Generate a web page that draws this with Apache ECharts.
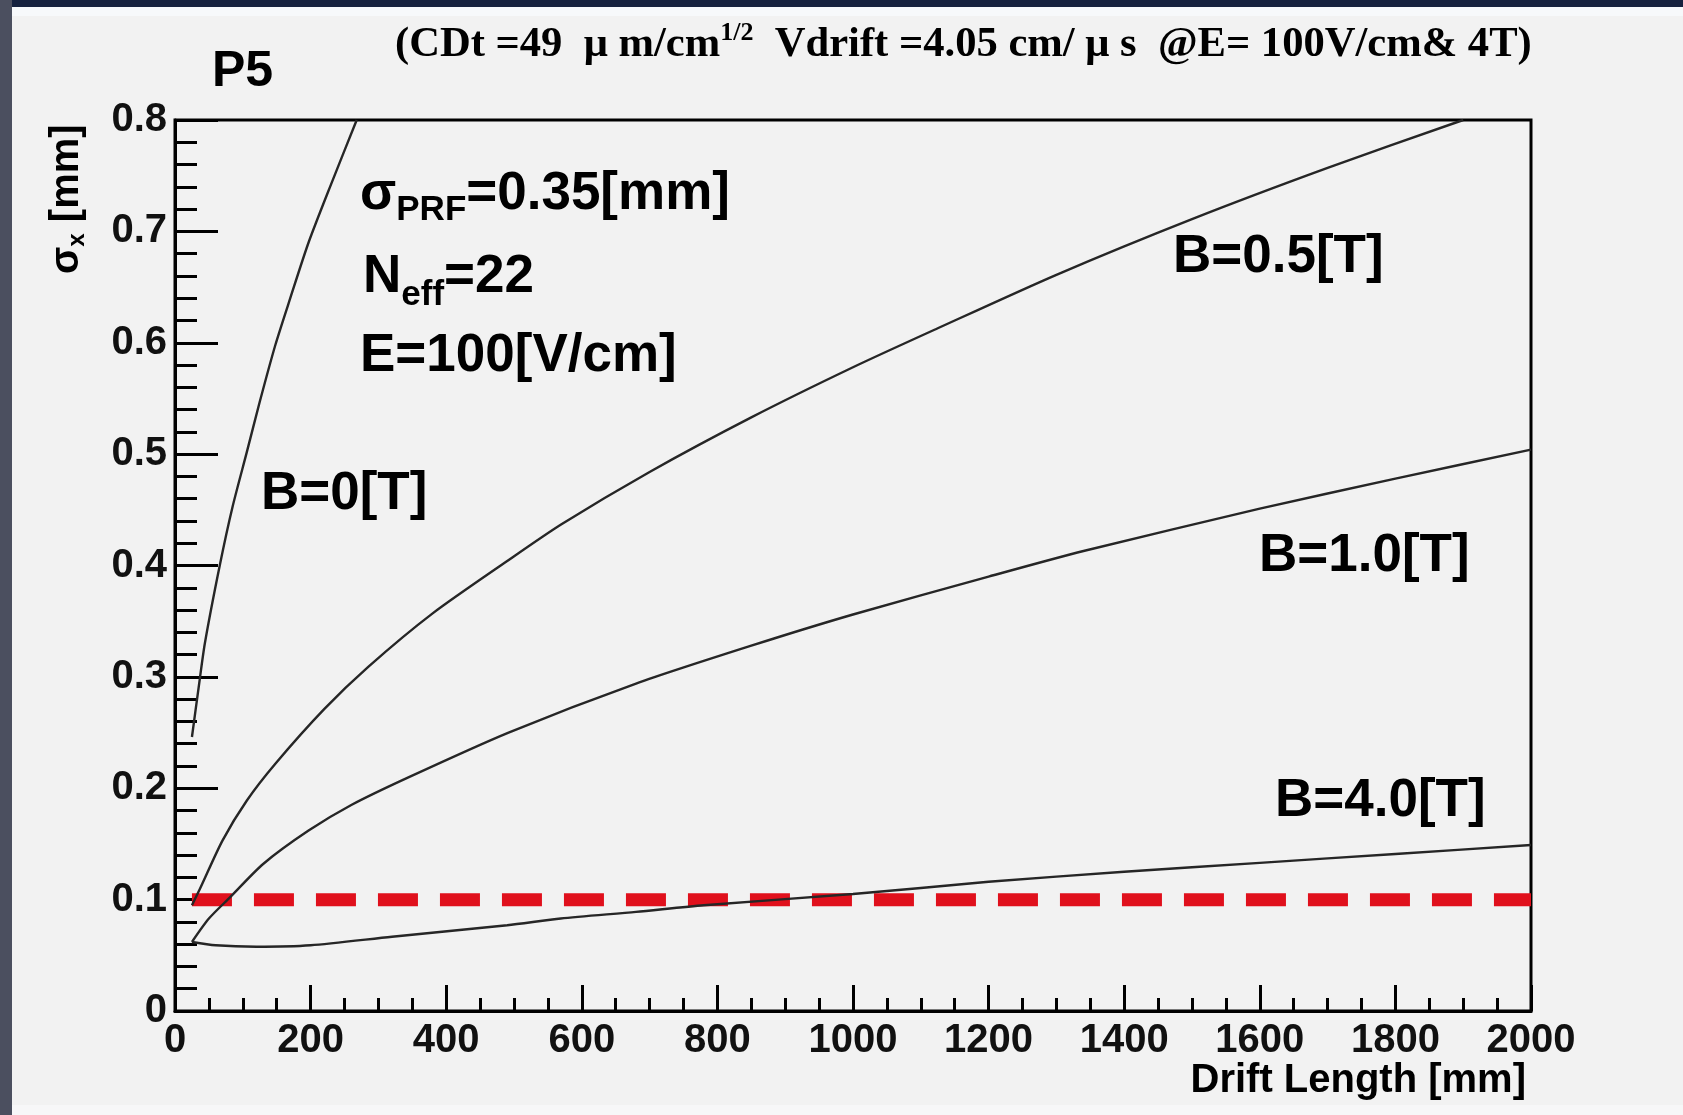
<!DOCTYPE html>
<html>
<head>
<meta charset="utf-8">
<script src="https://cdn.jsdelivr.net/npm/echarts@6/dist/echarts.min.js"></script>
<style>
html,body{margin:0;padding:0;background:#f2f2f2;}
#c{width:1683px;height:1115px;}
</style>
</head>
<body>
<div id="c"></div>
<script>
// ---- data ----
const driftB0  = [25, 35, 44, 66, 85, 106, 125, 148, 170, 197, 230, 268];
const sigmaB0  = [0.246, 0.291, 0.330, 0.400, 0.453, 0.502, 0.547, 0.598, 0.640, 0.690, 0.742, 0.800];

const driftB05 = [25, 37, 70, 106, 148, 220, 285, 380, 490, 570, 700, 850, 1000, 1125, 1300, 1500, 1700, 1900];
const sigmaB05 = [0.095, 0.110, 0.153, 0.189, 0.222, 0.271, 0.309, 0.357, 0.404, 0.437, 0.484, 0.533, 0.578, 0.613, 0.661, 0.711, 0.757, 0.800];

const driftB1  = [25, 50, 81, 130, 197, 260, 345, 492, 680, 850, 1000, 1200, 1340, 1600, 1800, 2000];
const sigmaB1  = [0.062, 0.083, 0.102, 0.132, 0.162, 0.185, 0.210, 0.250, 0.294, 0.328, 0.356, 0.390, 0.413, 0.451, 0.478, 0.504];

const driftB4  = [25, 60, 120, 200, 320, 490, 569, 680, 780, 1000, 1200, 1400, 1600, 1800, 2000];
const sigmaB4  = [0.062, 0.059, 0.0577, 0.059, 0.0667, 0.077, 0.083, 0.089, 0.095, 0.105, 0.116, 0.125, 0.133, 0.141, 0.149];

const refDrift = [25, 2000];
const refSigma = [0.1, 0.1];

const xTickValues = [0, 200, 400, 600, 800, 1000, 1200, 1400, 1600, 1800, 2000];
const yTickValues = [0, 0.1, 0.2, 0.3, 0.4, 0.5, 0.6, 0.7, 0.8];

const curveLabels = ['B=0[T]', 'B=0.5[T]', 'B=1.0[T]', 'B=4.0[T]'];
const titleMain1 = '(CDt =49  \u03bc m/cm';
const titleSup = '1/2';
const titleMain2 = '  Vdrift =4.05 cm/ \u03bc s  @E= 100V/cm& 4T)';
const padLabel = 'P5';
const xTitle = 'Drift Length [mm]';

// ---- helpers ----
const zip = (xs, ys) => xs.map((x, i) => [x, ys[i]]);
const cv = document.createElement('canvas').getContext('2d');
function tw(t, font) { cv.font = font; return cv.measureText(t).width; }
const SANS = '"Liberation Sans", Arial, sans-serif';
const SERIF = '"Liberation Serif", "Times New Roman", serif';
function pieces(parts, x0, y0, family, weight) {
  let x = x0; const out = [];
  for (const p of parts) {
    const font = weight + ' ' + p.f + 'px ' + family;
    out.push({
      type: 'text', x: x, y: y0 + (p.dy || 0), z: 100,
      style: { text: p.t, font: font, fill: '#000',
               textAlign: 'left', textVerticalAlign: 'middle', align: 'left', verticalAlign: 'middle' }
    });
    x += tw(p.t, font);
  }
  return out;
}

const AF = 53; // annotation font size
const TF = 42.6; // title font size
const graphics = [
  { type: 'rect', z: -10, shape: { x: 0, y: 0, width: 1683, height: 7 }, style: { fill: '#16223f' } },
  { type: 'rect', z: -10, shape: { x: 0, y: 7, width: 1683, height: 9 }, style: { fill: '#f7f9fb' } },
  { type: 'rect', z: -10, shape: { x: 0, y: 0, width: 12, height: 1115 }, style: { fill: '#4b4f5f' } },
  { type: 'rect', z: -10, shape: { x: 12, y: 1105, width: 1671, height: 10 }, style: { fill: '#f7f7f8' } },
  ...pieces([{ t: titleMain1, f: TF }, { t: titleSup, f: 26, dy: -12 }, { t: titleMain2, f: TF }], 395, 45, SERIF, 'bold'),
  ...pieces([{ t: padLabel, f: 50 }], 212, 72, SANS, 'bold'),
  ...pieces([{ t: '\u03c3', f: AF }, { t: 'PRF', f: 35, dy: 16 }, { t: '=0.35[mm]', f: AF }], 360, 194, SANS, 'bold'),
  ...pieces([{ t: 'N', f: AF }, { t: 'eff', f: 35, dy: 18 }, { t: '=22', f: AF }], 363, 277, SANS, 'bold'),
  ...pieces([{ t: 'E=100[V/cm]', f: AF }], 360, 356, SANS, 'bold'),
  ...pieces([{ t: curveLabels[0], f: AF }], 261, 494, SANS, 'bold'),
  ...pieces([{ t: curveLabels[1], f: AF }], 1173, 257, SANS, 'bold'),
  ...pieces([{ t: curveLabels[2], f: AF }], 1259, 556, SANS, 'bold'),
  ...pieces([{ t: curveLabels[3], f: AF }], 1275, 801, SANS, 'bold'),
  ...pieces([{ t: xTitle, f: 40 }], 1526 - tw(xTitle, 'bold 40px ' + SANS), 1081, SANS, 'bold'),
  { type: 'group', x: 67, y: 274, rotation: Math.PI / 2, z: 100,
    children: pieces([{ t: '\u03c3', f: 40 }, { t: 'x', f: 24, dy: 10 }, { t: ' [mm]', f: 40 }], 0, 0, SANS, 'bold') }
];

const lineStyleCurve = { color: '#262626', width: 2.4 };
const mkCurve = (name, xs, ys) => ({
  name: name, type: 'line', data: zip(xs, ys), showSymbol: false, symbol: 'none',
  smooth: 0.25, clip: true, z: 5,
  lineStyle: lineStyleCurve, silent: true
});

const chart = echarts.init(document.getElementById('c'), null, { renderer: 'canvas' });
chart.setOption({
  animation: false,
  backgroundColor: '#f2f2f2',
  grid: { left: 175, top: 120, right: 152, bottom: 104, show: true, borderColor: '#000', borderWidth: 3, backgroundColor: 'transparent' },
  xAxis: {
    type: 'value', min: xTickValues[0], max: xTickValues[xTickValues.length - 1], interval: 200,
    axisLine: { show: true, onZero: false, lineStyle: { color: '#000', width: 3 } },
    axisTick: { show: true, inside: true, length: 26, lineStyle: { color: '#000', width: 3 } },
    minorTick: { show: true, splitNumber: 4, length: 13, lineStyle: { color: '#000', width: 3 } },
    splitLine: { show: false },
    axisLabel: { fontSize: 40, fontWeight: 'bold', fontFamily: SANS, color: '#111', margin: 10,
                 formatter: v => String(v) }
  },
  yAxis: {
    type: 'value', min: yTickValues[0], max: yTickValues[yTickValues.length - 1], interval: 0.1,
    axisLine: { show: true, onZero: false, lineStyle: { color: '#000', width: 3 } },
    axisTick: { show: true, inside: true, length: 43, lineStyle: { color: '#000', width: 3 } },
    minorTick: { show: true, splitNumber: 5, length: 22, lineStyle: { color: '#000', width: 3 } },
    splitLine: { show: false },
    axisLabel: { fontSize: 40, fontWeight: 'bold', fontFamily: SANS, color: '#111', margin: 8,
                 formatter: v => String(Math.round(v * 10) / 10) }
  },
  series: [
    { name: 'limit', type: 'line', data: zip(refDrift, refSigma), showSymbol: false, symbol: 'none', z: 3, silent: true,
      lineStyle: { color: '#e0101c', width: 13, type: [40, 22], cap: 'butt' } },
    mkCurve(curveLabels[0], driftB0, sigmaB0),
    mkCurve(curveLabels[1], driftB05, sigmaB05),
    mkCurve(curveLabels[2], driftB1, sigmaB1),
    mkCurve(curveLabels[3], driftB4, sigmaB4)
  ],
  graphic: { elements: graphics }
});
</script>
</body>
</html>
